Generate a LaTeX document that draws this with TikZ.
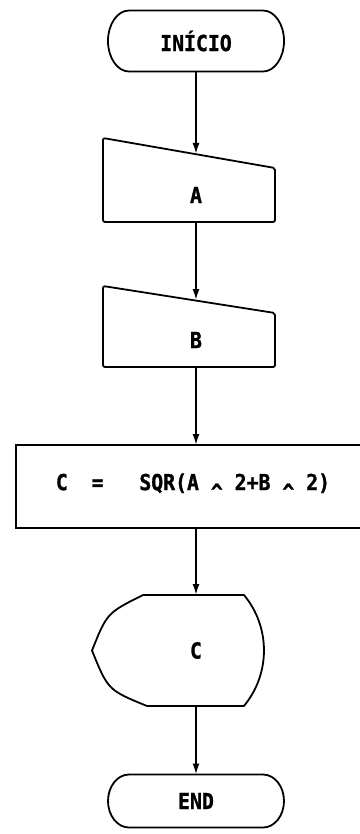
\documentclass[tikz,border=0pt]{standalone}
\usepackage{fontspec}
\newfontfamily\flowfont[FakeStretch=0.9, FakeBold=1.2]{DejaVu Sans Mono}
\usetikzlibrary{arrows.meta,calc}
\newcommand{\pow}{\raisebox{-9.5pt}{\textasciicircum}}

\begin{document}
\begin{tikzpicture}[x=1pt, y=-1pt,
    txt/.style={font=\flowfont\bfseries\fontsize{22}{25}\selectfont, inner sep=0pt, outer sep=0pt},
    shp/.style={line width=1.8pt, line join=round},
    arr/.style={-{Latex[length=11pt,width=7pt]}, line width=1.8pt}
]
    \useasboundingbox (0,0) rectangle (359,834);

    % terminal: start
    \node[txt, minimum width=176pt, minimum height=61pt] (start) at (196,41) {INÍCIO};
    \draw[shp] (start.north west) ++(21,0) -- ++(134,0)
        arc[start angle=90, end angle=-90, x radius=21pt, y radius=30.5pt] -- ++(-134,0)
        arc[start angle=270, end angle=90, x radius=21pt, y radius=30.5pt] -- cycle;

    % manual inputs
    \node[txt, minimum height=54pt] (inA) at (196,195) {A};
    \draw[shp, rounded corners=2pt] (inA.center) ++(-93,-57) -- ++(172,30) -- ++(0,54) -- ++(-172,0) -- cycle;
    \coordinate (inA-top) at ($(inA.center)+(0,-41)$);

    \node[txt, minimum height=54pt] (inB) at (196,340) {B};
    \draw[shp, rounded corners=2pt] (inB.center) ++(-93,-54) -- ++(172,27) -- ++(0,54) -- ++(-172,0) -- cycle;
    \coordinate (inB-top) at ($(inB.center)+(0,-40)$);

    % process
    \node[txt, draw, line width=1.8pt, minimum width=354pt, minimum height=83pt] (proc) at (193,486.5)
        {C~~=~~~SQR(A~\pow~2+B~\pow~2)};

    % display
    \node[txt, minimum height=111pt] (outC) at (196,650.5) {C};
    \draw[shp] ($(outC)+(-53,-55.5)$) -- ($(outC)+(48,-55.5)$)
        arc[start angle=39.6, end angle=-39.6, radius=87pt] -- ($(outC)+(-49,55.5)$)
        .. controls ($(outC)+(-88,39.5)$) .. ($(outC)+(-104,0)$)
        .. controls ($(outC)+(-89,-37.5)$) .. ($(outC)+(-53,-55.5)$) -- cycle;

    % terminal: end
    \node[txt, minimum width=176pt, minimum height=53pt] (stop) at (196,801) {END};
    \draw[shp] (stop.north west) ++(21,0) -- ++(134,0)
        arc[start angle=90, end angle=-90, x radius=21pt, y radius=26.5pt] -- ++(-134,0)
        arc[start angle=270, end angle=90, x radius=21pt, y radius=26.5pt] -- cycle;

    \draw[arr] (start) -- (inA-top);
    \draw[arr] (inA) -- (inB-top);
    \draw[arr] (inB) -- (inB |- proc.north);
    \draw[arr] (proc.south -| outC) -- (outC);
    \draw[arr] (outC) -- (stop);
\end{tikzpicture}
\end{document}
